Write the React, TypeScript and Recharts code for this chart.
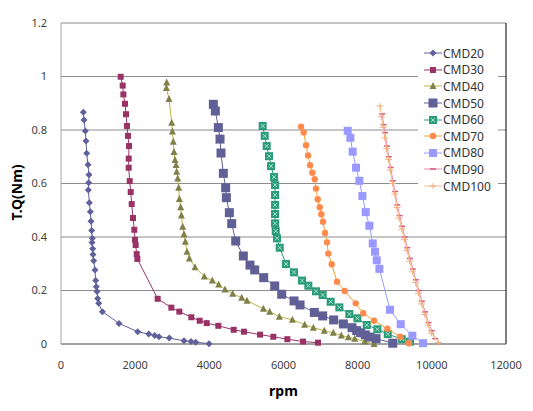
import React from 'react';
import { ScatterChart, Scatter, XAxis, YAxis, CartesianGrid, Legend, ReferenceLine } from 'recharts';

// rpm, torque pairs
const cmd20 = [
  [602, 0.866], [620, 0.837], [656, 0.796], [674, 0.759], [692, 0.713], [728, 0.67], [755, 0.633], [746, 0.603],
  [737, 0.576], [764, 0.528], [791, 0.494], [809, 0.459], [827, 0.424], [845, 0.395], [836, 0.379], [854, 0.356],
  [863, 0.335], [881, 0.311], [917, 0.277], [935, 0.237], [953, 0.214], [971, 0.196], [989, 0.17], [1016, 0.152],
  [1115, 0.121], [1564, 0.077], [2068, 0.046], [2365, 0.037], [2527, 0.032], [2643, 0.027], [2921, 0.022],
  [3317, 0.012], [3506, 0.009], [3632, 0.007], [3991, 0.001],
];
const cmd30 = [
  [1610, 0.999], [1664, 0.966], [1682, 0.933], [1726, 0.898], [1753, 0.859], [1780, 0.815], [1807, 0.778],
  [1834, 0.74], [1826, 0.693], [1826, 0.659], [1853, 0.609], [1880, 0.568], [1907, 0.523], [1942, 0.471],
  [1977, 0.427], [1996, 0.389], [2014, 0.37], [2041, 0.336], [2059, 0.318], [2607, 0.169], [2976, 0.136],
  [3191, 0.121], [3515, 0.1], [3740, 0.087], [3929, 0.078], [4243, 0.068], [4657, 0.053], [4935, 0.046],
  [5367, 0.035], [5726, 0.027], [6104, 0.018], [6527, 0.009], [6931, 0.005],
];
const cmd40 = [
  [2850, 0.978], [2841, 0.957], [2913, 0.916], [2985, 0.827], [3003, 0.794], [3029, 0.756], [3048, 0.718],
  [3075, 0.688], [3102, 0.669], [3120, 0.644], [3147, 0.619], [3174, 0.584], [3192, 0.542], [3228, 0.511],
  [3246, 0.48], [3282, 0.438], [3317, 0.41], [3353, 0.382], [3398, 0.345], [3461, 0.32], [3614, 0.287],
  [3865, 0.252], [4081, 0.237], [4253, 0.222], [4423, 0.204], [4630, 0.188], [4873, 0.173], [5016, 0.162],
  [5457, 0.132], [5628, 0.121], [5888, 0.102], [6239, 0.091], [6572, 0.072], [6805, 0.061], [7101, 0.05],
  [7344, 0.042], [7560, 0.032], [7749, 0.025], [7921, 0.02], [8191, 0.009], [8442, 0.0],
];
const cmd50 = [
  [4108, 0.896], [4162, 0.871], [4243, 0.809], [4288, 0.766], [4315, 0.714], [4378, 0.638], [4441, 0.584],
  [4459, 0.547], [4540, 0.491], [4603, 0.45], [4711, 0.385], [4917, 0.329], [5097, 0.295], [5223, 0.277],
  [5466, 0.248], [5763, 0.217], [5952, 0.186], [6284, 0.161], [6446, 0.146], [6832, 0.118], [7056, 0.105],
  [7353, 0.09], [7614, 0.075], [7848, 0.061], [7974, 0.05], [8083, 0.042], [8207, 0.034], [8334, 0.026],
  [8496, 0.02], [8946, 0.003],
];
const cmd60 = [
  [5439, 0.815], [5493, 0.778], [5547, 0.74], [5610, 0.702], [5664, 0.665], [5745, 0.624], [5772, 0.594],
  [5772, 0.557], [5772, 0.52], [5772, 0.486], [5772, 0.451], [5790, 0.422], [5826, 0.395], [5898, 0.36],
  [6068, 0.299], [6284, 0.268], [6500, 0.237], [6670, 0.218], [6877, 0.197], [7056, 0.183], [7272, 0.158],
  [7506, 0.137], [7776, 0.112], [7992, 0.096], [8245, 0.071], [8532, 0.055], [8811, 0.037], [9188, 0.018],
  [9413, 0.009],
];
const cmd70 = [
  [6473, 0.812], [6545, 0.791], [6608, 0.743], [6662, 0.705], [6716, 0.668], [6778, 0.64], [6842, 0.616],
  [6877, 0.581], [6923, 0.541], [6977, 0.511], [7020, 0.485], [7066, 0.457], [7120, 0.415], [7174, 0.38],
  [7209, 0.338], [7300, 0.298], [7443, 0.233], [7651, 0.198], [7947, 0.152], [8150, 0.115], [8442, 0.087],
  [8802, 0.057], [9143, 0.027], [9386, 0.003],
];
const cmd80 = [
  [7732, 0.797], [7803, 0.771], [7866, 0.719], [7956, 0.659], [8046, 0.61], [8127, 0.553], [8217, 0.493],
  [8316, 0.442], [8406, 0.376], [8469, 0.345], [8514, 0.313], [8586, 0.281], [8873, 0.128], [9161, 0.074],
  [9475, 0.031], [9763, 0.003],
];
const cmd90 = [
  [8660, 0.86], [8700, 0.82], [8740, 0.79], [8790, 0.74], [8840, 0.7], [8890, 0.66], [8950, 0.61], [9010, 0.57],
  [9070, 0.52], [9130, 0.48], [9200, 0.44], [9270, 0.4], [9340, 0.36], [9410, 0.32], [9490, 0.28], [9570, 0.24],
  [9650, 0.2], [9730, 0.16], [9820, 0.12], [9910, 0.08], [10000, 0.05], [10090, 0.02],
];
const cmd100 = [
  [8600, 0.89], [8640, 0.85], [8690, 0.81], [8730, 0.77], [8780, 0.73], [8830, 0.69], [8880, 0.65], [8940, 0.6],
  [9000, 0.56], [9060, 0.51], [9120, 0.47], [9190, 0.43], [9260, 0.39], [9330, 0.35], [9400, 0.31], [9480, 0.27],
  [9560, 0.23], [9640, 0.19], [9720, 0.15], [9810, 0.11], [9900, 0.07], [9990, 0.04], [10180, 0.005],
];

const xTicks = [0, 2000, 4000, 6000, 8000, 10000, 12000];
const yTicks = [0, 0.2, 0.4, 0.6, 0.8, 1, 1.2];

const toPts = (a: number[][]) => a.map(([rpm, tq]) => ({ rpm, tq }));

const series = [
  { name: 'CMD20', data: cmd20, marker: 'diamond', fill: '#60609a', line: '#60609a' },
  { name: 'CMD30', data: cmd30, marker: 'sq6', fill: '#993366', line: '#993366' },
  { name: 'CMD40', data: cmd40, marker: 'triangle', fill: '#80804a', line: '#b8b840' },
  { name: 'CMD50', data: cmd50, marker: 'sq9', fill: '#606096', line: '#606096' },
  { name: 'CMD60', data: cmd60, marker: 'sqx', fill: '#2a9a78', line: '#2a9a78' },
  { name: 'CMD70', data: cmd70, marker: 'circle', fill: '#ff8a4c', line: '#f5a030' },
  { name: 'CMD80', data: cmd80, marker: 'sq8', fill: '#9999ff', line: '#9999ff' },
  { name: 'CMD90', data: cmd90, marker: 'dash', fill: '#d85a7a', line: '#e890a8' },
  { name: 'CMD100', data: cmd100, marker: 'plus', fill: '#f2b07a', line: '#f4c08c' },
];

function Marker({ kind, cx, cy, fill }: { kind: string; cx: number; cy: number; fill: string }) {
  switch (kind) {
    case 'diamond':
      return <path d={`M${cx},${cy - 3.5}L${cx + 3.5},${cy}L${cx},${cy + 3.5}L${cx - 3.5},${cy}Z`} fill={fill} />;
    case 'sq6':
      return <rect x={cx - 3} y={cy - 3} width={6} height={6} fill={fill} />;
    case 'sq9':
      return <rect x={cx - 4.5} y={cy - 4.5} width={9} height={9} fill={fill} />;
    case 'sq8':
      return <rect x={cx - 4} y={cy - 4} width={8} height={8} fill={fill} />;
    case 'sqx':
      return (
        <g>
          <rect x={cx - 4} y={cy - 4} width={8} height={8} fill={fill} />
          <path d={`M${cx - 2},${cy - 2}L${cx + 2},${cy + 2}M${cx + 2},${cy - 2}L${cx - 2},${cy + 2}`} stroke="#a8e6cf" strokeWidth={1} />
        </g>
      );
    case 'triangle':
      return <path d={`M${cx},${cy - 4}L${cx + 3.5},${cy + 3}L${cx - 3.5},${cy + 3}Z`} fill={fill} />;
    case 'circle':
      return <circle cx={cx} cy={cy} r={3.2} fill={fill} />;
    case 'dash':
      return <rect x={cx - 3} y={cy - 0.75} width={6} height={1.5} fill={fill} />;
    case 'plus':
      return <path d={`M${cx - 3.5},${cy}L${cx + 3.5},${cy}M${cx},${cy - 3}L${cx},${cy + 3}`} stroke={fill} strokeWidth={1} />;
    default:
      return null;
  }
}

const LegendBox = () => (
  <div style={{ background: '#fff', padding: '2px 0 2px 6px', fontFamily: 'Noto Sans, sans-serif', fontSize: 12, color: '#333' }}>
    {series.map((s) => (
      <div key={s.name} style={{ display: 'flex', alignItems: 'center', height: 16.6 }}>
        <svg width={18} height={12} style={{ marginRight: 1 }}>
          <line x1={0} y1={6} x2={18} y2={6} stroke={s.line} strokeWidth={1} />
          <Marker kind={s.marker} cx={9} cy={6} fill={s.fill} />
        </svg>
        <span>{s.name}</span>
      </div>
    ))}
  </div>
);

const tickStyle = { fontFamily: 'Noto Sans, sans-serif', fontSize: 11, fill: '#404040' };

export default function App() {
  return (
    <div style={{ width: 525, height: 403 }}>
      <ScatterChart width={525} height={403} margin={{ top: 15, right: 27, left: 0, bottom: 0 }}>
        <CartesianGrid vertical={false} stroke="#8c8c8c" />
        <XAxis
          type="number"
          dataKey="rpm"
          domain={[0, 12000]}
          ticks={xTicks}
          height={67}
          tickSize={0}
          tickMargin={17}
          tick={tickStyle}
          axisLine={{ stroke: '#808080' }}
          label={{
            content: ({ viewBox }: any) => (
              <text x={viewBox.x + viewBox.width / 2} y={viewBox.y + 46} textAnchor="middle" dominantBaseline="central"
                style={{ fontFamily: 'Noto Sans, sans-serif', fontSize: 14, fontWeight: 'bold', fill: '#000' }}>rpm</text>
            ),
          }}
        />
        <YAxis
          type="number"
          dataKey="tq"
          domain={[0, 1.2]}
          ticks={yTicks}
          width={53}
          tickSize={0}
          tickMargin={14}
          tick={tickStyle}
          axisLine={{ stroke: '#a6a6a6' }}
          label={{
            content: ({ viewBox }: any) => {
              const x = viewBox.x + 8;
              const y = viewBox.y + viewBox.height / 2 + 9;
              return (
                <text x={x} y={y} transform={`rotate(-90 ${x} ${y})`} textAnchor="middle" dominantBaseline="central"
                  style={{ fontFamily: 'Noto Sans, sans-serif', fontSize: 14, fontWeight: 'bold', fill: '#000' }}>T.Q(Nm)</text>
              );
            },
          }}
        />
        <ReferenceLine x={12000} stroke="#000" />
        {series.map((s) => (
          <Scatter
            key={s.name}
            name={s.name}
            data={toPts(s.data)}
            line={{ stroke: s.line, strokeWidth: 1 }}
            lineType="joint"
            isAnimationActive={false}
            shape={(p: any) => <Marker kind={s.marker} cx={p.cx} cy={p.cy} fill={s.fill} />}
          />
        ))}
        <Legend
          layout="vertical"
          align="center"
          verticalAlign="middle"
          wrapperStyle={{ left: 410, top: 35, width: 80 }}
          content={() => <LegendBox />}
        />
      </ScatterChart>
    </div>
  );
}
